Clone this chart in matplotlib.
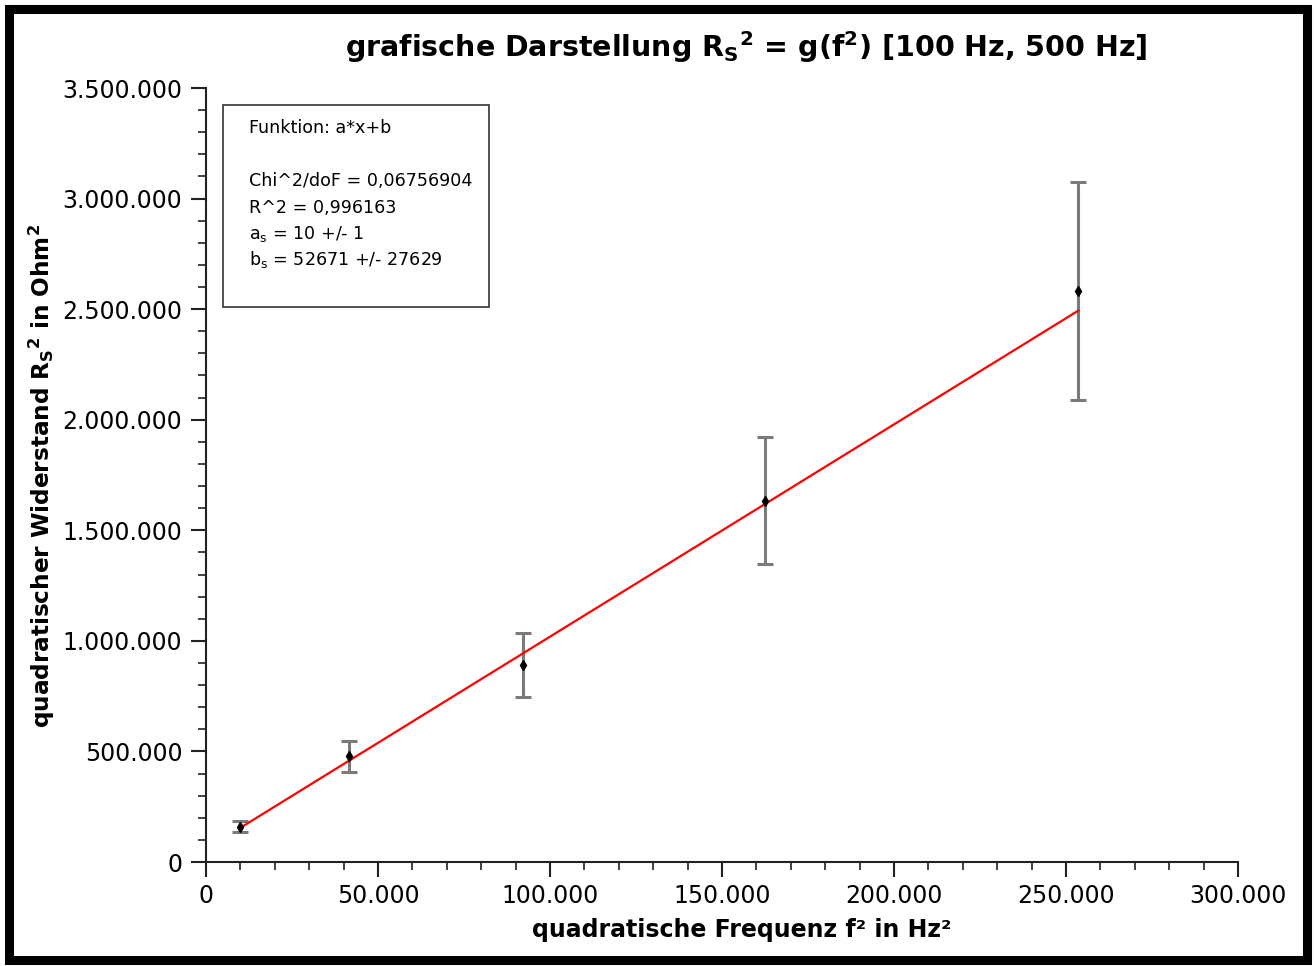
import matplotlib
matplotlib.use("Agg")
import matplotlib.pyplot as plt
import numpy as np
from matplotlib.patches import Rectangle
from matplotlib.ticker import MultipleLocator, FuncFormatter

f2 = [9900, 41700, 92200, 162500, 253600]           # Hz^2
R2 = [160000, 479000, 891000, 1634000, 2582000]     # Ohm^2
R2_err = [25000, 70000, 146000, 288000, 493000]

# Fitgerade wie gezeichnet
a_fit = 9.6
b_fit = 58800

fit_text = ["Funktion: a*x+b", "",
            "Chi^2/doF = 0,06756904",
            "R^2 = 0,996163",
            r"a$_\mathregular{s}$ = 10 +/- 1",
            r"b$_\mathregular{s}$ = 52671 +/- 27629"]

plt.rcParams['font.family'] = ['DejaVu Sans']

fig = plt.figure(figsize=(13.14, 9.66), dpi=100)
ax = fig.add_axes([206/1314, 1-862/966, 1032/1314, 774/966])

ax.errorbar(f2, R2, yerr=R2_err, fmt='none', ecolor='#7a7a7a', elinewidth=2.2,
            capsize=6, capthick=2.2, zorder=2)
ax.plot(f2, R2, 'd', color='black', markersize=5, zorder=4)
xf = np.array([f2[0], f2[-1]])
ax.plot(xf, a_fit*xf + b_fit, color='red', lw=1.6, zorder=3)

ax.set_xlim(0, 300000)
ax.set_ylim(0, 3500000)
ax.xaxis.set_major_locator(MultipleLocator(50000))
ax.xaxis.set_minor_locator(MultipleLocator(10000))
ax.yaxis.set_major_locator(MultipleLocator(500000))
ax.yaxis.set_minor_locator(MultipleLocator(100000))
fmt = FuncFormatter(lambda v, p: f"{int(v):,}".replace(",", "."))
ax.xaxis.set_major_formatter(fmt)
ax.yaxis.set_major_formatter(fmt)

for s in ['top', 'right']:
    ax.spines[s].set_visible(False)
for s in ['left', 'bottom']:
    ax.spines[s].set_linewidth(1.5)
    ax.spines[s].set_color('#222222')
ax.tick_params(which='major', length=11, width=1.5, labelsize=17, color='#222222')
ax.tick_params(which='minor', length=6, width=1.2, color='#222222')
ax.tick_params(axis='y', which='major', pad=6)
ax.tick_params(axis='x', which='major', pad=5)

# Fitbox
ax.add_patch(Rectangle((0.0165, 0.717), 0.2577, 0.261, transform=ax.transAxes,
                       fill=False, edgecolor='#333333', lw=1.2, zorder=5))
ys = [0.948, 0.914, 0.880, 0.845, 0.811, 0.779]
for t, y in zip(fit_text, ys):
    if t:
        ax.text(0.0417, y, t, transform=ax.transAxes, fontsize=12.6, va='center', ha='left')

fig.text(0.5677, 1-47/966, r"grafische Darstellung R$_\mathregular{S}$$^\mathregular{2}$ = g(f$^\mathregular{2}$) [100 Hz, 500 Hz]",
         ha='center', va='center', fontsize=20.5, fontweight='bold')
fig.text(742/1314, 1-930/966, "quadratische Frequenz f² in Hz²",
         ha='center', va='center', fontsize=17, fontweight='bold')
fig.text(42/1314, 1-476/966, r"quadratischer Widerstand R$_\mathregular{S}$$^\mathregular{2}$ in Ohm$^\mathregular{2}$",
         ha='center', va='center', rotation=90, fontsize=16.7, fontweight='bold')

# schwarzer Rahmen
fig.patches.append(Rectangle((8.5/1314, 6/966), 1298/1314, 951/966, transform=fig.transFigure,
                             fill=False, edgecolor='black', lw=6.5))

fig.savefig("out.png", dpi=100)
